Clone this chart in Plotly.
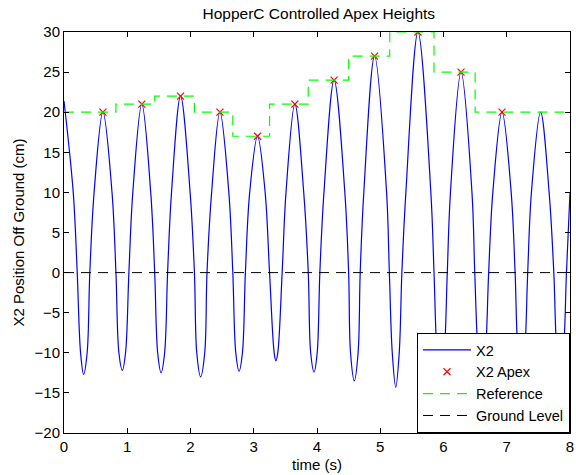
import plotly.graph_objects as go

# ---- X2 trajectory, sampled per hop: apex, crossings of +10/0/-10 cm, trough ----
peak_t = [0.0, 0.615, 1.23, 1.843, 2.465, 3.06, 3.65, 4.27, 4.91, 5.596, 6.277, 6.925, 7.535]
peak_h = [21.4, 20, 21, 22, 20, 17, 21, 24, 27, 30, 25, 20, 20]

down10_t = [0.146, 0.759, 1.371, 1.994, 2.606, 3.18, 3.79, 4.44, 5.10, 5.80, 6.45, 7.07, 7.67]
down0_t = [0.209, 0.821, 1.434, 2.062, 2.669, 3.25, 3.862, 4.50, 5.144, 5.85, 6.494, 7.132, 7.744]
downm10_t = [0.262, 0.868, 1.481, 2.099, 2.716, 3.323, 3.90, 4.53, 5.19, 5.895, 6.545, 7.18, 7.795]
trough_t = [0.31, 0.922, 1.535, 2.16, 2.768, 3.35, 3.953, 4.59, 5.245, 5.955, 6.604, 7.23, 7.844]
trough_h = [-12.7, -12.2, -12.5, -13.0, -12.3, -11.0, -12.4, -13.5, -14.3, -15.0, -14.5, -12.0, -12.0]
upm10_t = [0.366, 0.973, 1.591, 2.225, 2.821, 3.38, 4.003, 4.65, 5.30, 6.015, 6.665, 7.28, 7.893]
up0_t = [0.408, 1.026, 1.638, 2.261, 2.868, 3.449, 4.045, 4.683, 5.342, 6.06, 6.714, 7.331, 7.944]
up10_t = [0.476, 1.088, 1.70, 2.334, 2.936, 3.51, 4.11, 4.74, 5.405, 6.11, 6.78, 7.39, 8.0]
levels = [10, 0, -10]

# ---- detected apexes ----
apex_t = [0.615, 1.23, 1.843, 2.465, 3.06, 3.65, 4.27, 4.91, 5.596, 6.277, 6.925]
apex_h = [20, 21, 22, 20, 17, 21, 24, 27, 30, 25, 20]

# ---- commanded apex height (switches at touchdown) ----
ref_t = [0, 0.821, 1.434, 2.062, 2.669, 3.25, 3.862, 4.50, 5.15, 5.85, 6.50, 8]
ref_h = [20, 21, 22, 20, 17, 21, 24, 27, 30, 25, 20, 20]

ground_t = [0, 8]
ground_h = [0, 0]

x_ticks = [0, 1, 2, 3, 4, 5, 6, 7, 8]
y_ticks = [-20, -15, -10, -5, 0, 5, 10, 15, 20, 25, 30]

# assemble the hop samples in time order
x2_t, x2_y = [], []
hi, mid, lo = levels
for i in range(len(peak_t)):
    x2_t += [peak_t[i], down10_t[i], down0_t[i], downm10_t[i],
             trough_t[i], upm10_t[i], up0_t[i], up10_t[i]]
    x2_y += [peak_h[i], hi, mid, lo, trough_h[i], lo, mid, hi]

FONT = "Liberation Sans, Arial, Helvetica, sans-serif"

fig = go.Figure()
fig.add_trace(go.Scatter(
    x=x2_t, y=x2_y, name="X2", mode="lines",
    line=dict(color="rgb(0,0,255)", width=1.2, shape="spline", smoothing=1.0),
))
fig.add_trace(go.Scatter(
    x=apex_t, y=apex_h, name="X2 Apex", mode="markers",
    marker=dict(symbol="x-thin", size=7, line=dict(color="rgb(255,0,0)", width=1.2),
                color="rgb(255,0,0)"),
))
fig.add_trace(go.Scatter(
    x=ref_t, y=ref_h, name="Reference", mode="lines",
    line=dict(color="rgb(0,255,0)", width=1.2, shape="hv", dash="10px,7px"),
))
fig.add_trace(go.Scatter(
    x=ground_t, y=ground_h, name="Ground Level", mode="lines",
    line=dict(color="rgb(0,0,0)", width=1, dash="10px,7px"),
))

axis_common = dict(
    showline=True, linecolor="black", linewidth=1, mirror="ticks",
    ticks="inside", ticklen=5, tickwidth=1, tickcolor="black",
    showgrid=False, zeroline=False, ticklabeloverflow="allow",
    tickfont=dict(family=FONT, size=15, color="black"),
)

fig.update_layout(
    width=576, height=475,
    margin=dict(l=64, r=2, t=32, b=42),
    paper_bgcolor="white", plot_bgcolor="white",
    font=dict(family=FONT, size=15, color="black"),
    title=dict(text="HopperC Controlled Apex Heights", x=0.5535, xanchor="center",
               y=1 - 14 / 475, yanchor="middle", yref="container",
               font=dict(family=FONT, size=15.5, color="black")),
    xaxis=dict(range=[0, 8], tickvals=x_ticks, **axis_common,
               title=dict(text="time (s)", standoff=5,
                          font=dict(family=FONT, size=15, color="black"))),
    yaxis=dict(range=[-20, 30], tickvals=y_ticks, **axis_common,
               title=dict(text="X2 Position Off Ground (cm)", standoff=6,
                          font=dict(family=FONT, size=15, color="black"))),
    showlegend=True,
    legend=dict(x=1, y=0, xanchor="right", yanchor="bottom",
                bgcolor="white", bordercolor="black", borderwidth=1,
                font=dict(family=FONT, size=14.5, color="black"),
                itemwidth=48, tracegroupgap=0),
)

fig.write_html("out.html")
